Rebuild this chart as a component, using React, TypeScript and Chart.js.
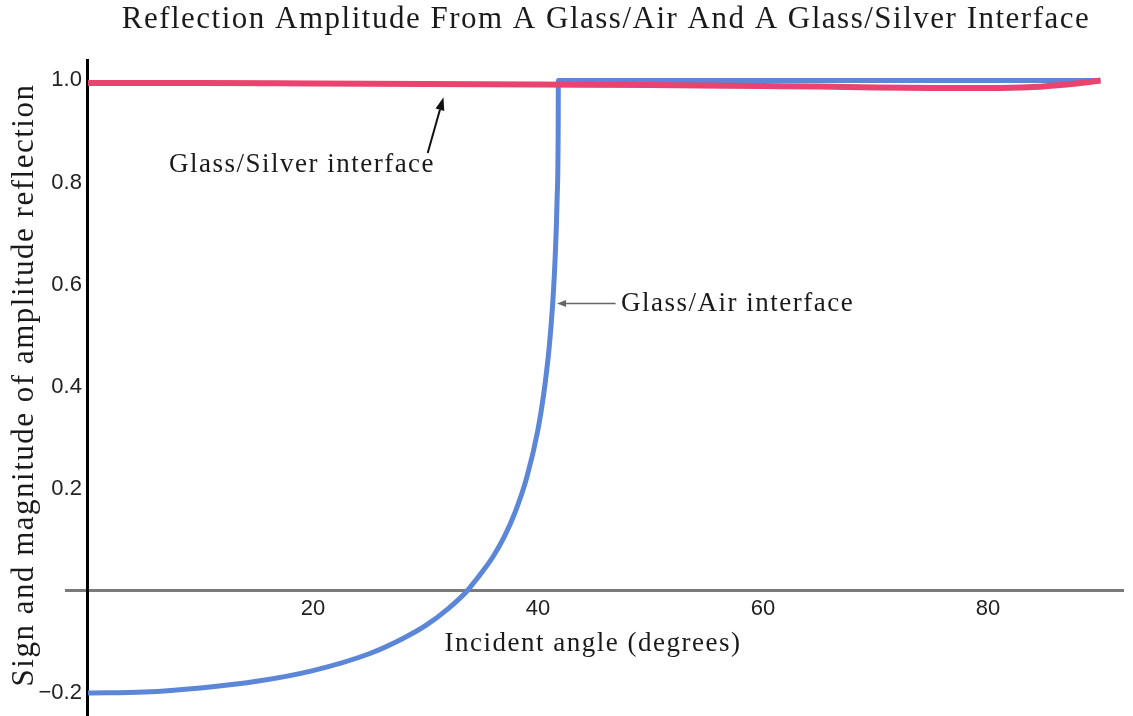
import React, { useEffect, useRef } from 'react';
import { Chart, registerables } from 'chart.js';

Chart.register(...registerables);

const TITLE = 'Reflection Amplitude From A Glass/Air And A Glass/Silver Interface';
const X_TITLE = 'Incident angle (degrees)';
const Y_TITLE = 'Sign and magnitude of amplitude reflection';
const AIR_LABEL = 'Glass/Air interface';
const SILVER_LABEL = 'Glass/Silver interface';

// Glass/Air interface (blue)
const airAngles = [0, 5, 10, 15, 20, 25, 28, 30, 32, 33.7, 34, 35, 36, 37, 38, 39, 40, 40.5, 41, 41.3, 41.5, 41.7, 41.8, 41.81, 50, 60, 70, 80, 90];
const airValues = [-0.2, -0.198, -0.19, -0.177, -0.156, -0.123, -0.093, -0.068, -0.035, 0, 0.008, 0.036, 0.067, 0.106, 0.156, 0.222, 0.316, 0.384, 0.478, 0.56, 0.639, 0.767, 0.92, 1.0, 1.0, 1.0, 1.0, 1.0, 1.0];

// Glass/Silver interface (pink)
const silverAngles = [0, 10, 20, 30, 40, 50, 60, 65, 70, 75, 80, 84, 87, 89, 90];
const silverValues = [0.995, 0.995, 0.994, 0.993, 0.992, 0.991, 0.989, 0.988, 0.986, 0.985, 0.985, 0.987, 0.992, 0.997, 1.0];

const xTicks = [20, 40, 60, 80];
const yTicks = [-0.2, 0, 0.2, 0.4, 0.6, 0.8, 1.0];

const SERIF = '"Liberation Serif", "Times New Roman", serif';
const SANS = '"Liberation Sans", Arial, sans-serif';
const PINK = '#e8446e';
const BLUE = '#5c86d8';
const Y_LABEL_GAP = 6;

function spaced(ctx: CanvasRenderingContext2D, text: string, x: number, y: number, spacing: number) {
  (ctx as any).letterSpacing = spacing + 'px';
  ctx.fillText(text, x, y);
  (ctx as any).letterSpacing = '0px';
}

function arrow(ctx: CanvasRenderingContext2D, x1: number, y1: number, x2: number, y2: number, color: string, width: number, headLen: number, headW: number) {
  const ang = Math.atan2(y2 - y1, x2 - x1);
  const bx = x2 - headLen * Math.cos(ang);
  const by = y2 - headLen * Math.sin(ang);
  ctx.strokeStyle = color;
  ctx.fillStyle = color;
  ctx.lineWidth = width;
  ctx.beginPath();
  ctx.moveTo(x1, y1);
  ctx.lineTo(bx, by);
  ctx.stroke();
  ctx.beginPath();
  ctx.moveTo(x2, y2);
  ctx.lineTo(bx + headW * Math.sin(ang), by - headW * Math.cos(ang));
  ctx.lineTo(bx - headW * Math.sin(ang), by + headW * Math.cos(ang));
  ctx.closePath();
  ctx.fill();
}

const overlay = {
  id: 'overlay',
  afterDraw(chart: any) {
    const { ctx } = chart;
    const xs = chart.scales.x;
    const ys = chart.scales.y;
    ctx.save();
    ctx.fillStyle = '#1a1a1a';
    ctx.textBaseline = 'alphabetic';
    ctx.textAlign = 'center';

    ctx.font = `31px ${SERIF}`;
    spaced(ctx, TITLE, 606, 28, 1.5);

    ctx.font = `27px ${SERIF}`;
    spaced(ctx, X_TITLE, 593, 651, 1.5);

    ctx.save();
    ctx.translate(33, 385);
    ctx.rotate(-Math.PI / 2);
    ctx.font = `31px ${SERIF}`;
    spaced(ctx, Y_TITLE, 0, 0, 1.5);
    ctx.restore();

    // Glass/Silver annotation
    ctx.font = `27px ${SERIF}`;
    ctx.textAlign = 'center';
    spaced(ctx, SILVER_LABEL, 302, 172, 1.5);
    arrow(ctx, xs.getPixelForValue(30.2), ys.getPixelForValue(0.858), xs.getPixelForValue(31.6), ys.getPixelForValue(0.967), '#111', 2, 13, 4.5);

    // Glass/Air annotation
    ctx.textAlign = 'left';
    ctx.fillStyle = '#1a1a1a';
    spaced(ctx, AIR_LABEL, 621, 311, 1.5);
    arrow(ctx, xs.getPixelForValue(46.9), ys.getPixelForValue(0.563), xs.getPixelForValue(41.7), ys.getPixelForValue(0.563), '#666', 1.5, 9, 3.5);

    ctx.restore();
  },
};

export default function App() {
  const ref = useRef<HTMLCanvasElement | null>(null);

  useEffect(() => {
    if (!ref.current) return;
    const chart = new Chart(ref.current, {
      type: 'line',
      data: {
        datasets: [
          {
            label: 'Glass/Silver interface',
            data: silverAngles.map((a, i) => ({ x: a, y: silverValues[i] })),
            borderColor: PINK,
            backgroundColor: PINK,
            borderWidth: 6,
            pointRadius: 0,
            fill: false,
            cubicInterpolationMode: 'monotone',
            order: 0,
          },
          {
            label: 'Glass/Air interface',
            data: airAngles.map((a, i) => ({ x: a, y: airValues[i] })),
            borderColor: BLUE,
            backgroundColor: BLUE,
            borderWidth: 5,
            pointRadius: 0,
            fill: false,
            cubicInterpolationMode: 'monotone',
            order: 1,
          },
        ],
      },
      options: {
        animation: false,
        responsive: false,
        maintainAspectRatio: false,
        layout: { padding: { left: 66, right: 10, top: 60, bottom: 0 } },
        plugins: {
          legend: { display: false },
          tooltip: { enabled: false },
          title: { display: false },
        },
        scales: {
          x: {
            type: 'linear',
            min: -1.95,
            max: 92,
            position: { y: 0 } as any,
            grid: { display: false, drawTicks: false },
            border: { display: true, color: '#7a7a7a', width: 3 },
            ticks: {
              font: { family: SANS, size: 22 },
              color: '#222',
              padding: 5,
              autoSkip: false,
              maxRotation: 0,
              callback: (v: any) => String(v),
            },
            afterBuildTicks: (s: any) => {
              s.ticks = xTicks.map((v) => ({ value: v }));
            },
            afterFit: (s: any) => {
              s.paddingLeft = 0;
              s.paddingRight = 0;
            },
          },
          y: {
            type: 'linear',
            min: -0.245,
            max: 1.04,
            position: { x: 0 } as any,
            grid: { display: false, drawTicks: false },
            border: { display: true, color: '#000', width: 3 },
            ticks: {
              font: { family: SANS, size: 22 },
              color: '#222',
              padding: 10,
              autoSkip: false,
              callback: (v: any) => (Math.abs(v) < 1e-9 ? '' : (v < 0 ? '\u2212' : '') + Math.abs(v).toFixed(1)),
            },
            afterBuildTicks: (s: any) => {
              s.ticks = yTicks.map((v) => ({ value: v }));
            },
            afterFit: (s: any) => {
              s.paddingTop = 0;
              s.paddingBottom = 0;
            },
            afterUpdate: (s: any) => {
              if (s.__patched) return;
              s.__patched = true;
              const orig = Object.getPrototypeOf(s)._computeLabelItems;
              s._computeLabelItems = function (area: any) {
                const items = orig.call(this, area);
                items.forEach((it: any) => {
                  if (it.options && it.options.translation) it.options.translation[0] -= Y_LABEL_GAP;
                });
                return items;
              };
            },
          },
        },
      },
      plugins: [overlay],
    } as any);
    return () => chart.destroy();
  }, []);

  return (
    <div style={{ position: 'fixed', left: 0, top: 0, width: 1133, height: 716, background: '#fff' }}>
      <canvas ref={ref} width={1133} height={716} style={{ display: 'block' }} />
    </div>
  );
}
